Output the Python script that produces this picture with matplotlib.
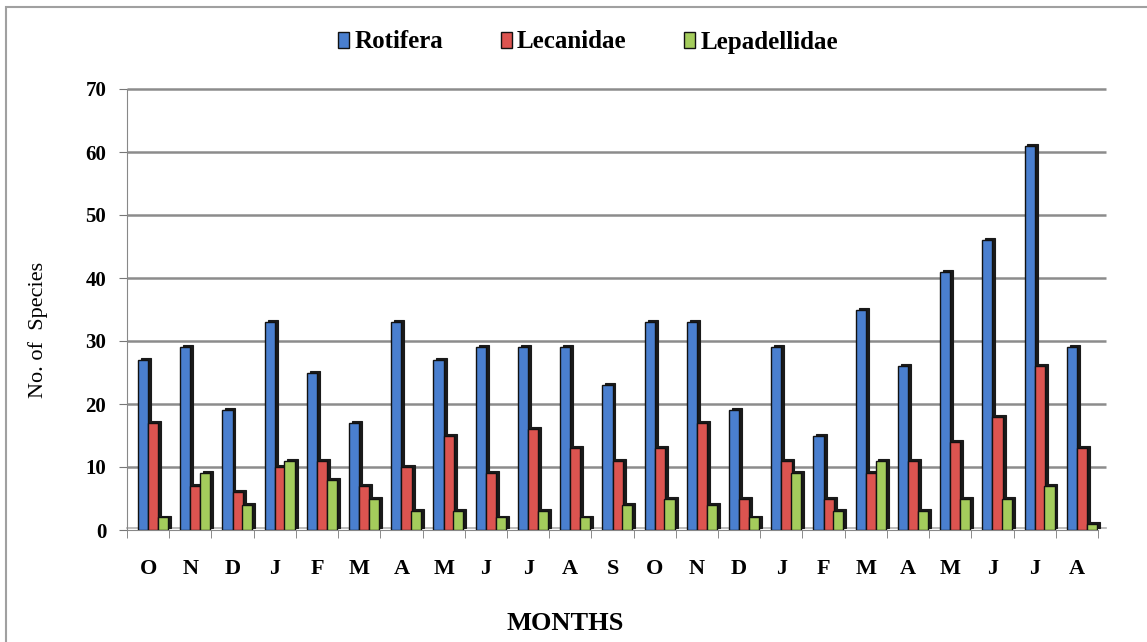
import matplotlib
matplotlib.use("Agg")
import matplotlib.pyplot as plt
import numpy as np
from matplotlib.patches import Rectangle

months = ["O", "N", "D", "J", "F", "M", "A", "M", "J", "J", "A", "S",
          "O", "N", "D", "J", "F", "M", "A", "M", "J", "J", "A"]
rotifera = [27, 29, 19, 33, 25, 17, 33, 27, 29, 29, 29, 23,
            33, 33, 19, 29, 15, 35, 26, 41, 46, 61, 29]
lecanidae = [17, 7, 6, 10, 11, 7, 10, 15, 9, 16, 13, 11,
             13, 17, 5, 11, 5, 9, 11, 14, 18, 26, 13]
lepadellidae = [2, 9, 4, 11, 8, 5, 3, 3, 2, 3, 2, 4,
                5, 4, 2, 9, 3, 11, 3, 5, 5, 7, 1]
series_names = ["Rotifera", "Lecanidae", "Lepadellidae"]
yticks = [0, 10, 20, 30, 40, 50, 60, 70]

colors = ["#4a7fcf", "#dc5450", "#a4cc5c"]
serif = ["Liberation Serif", "DejaVu Serif"]

W, H = 1147, 642
fig = plt.figure(figsize=(W / 100, H / 100), dpi=100)
# outer frame (right and bottom edges fall outside the picture)
fig.patches.append(Rectangle((6 / W, -0.05), 1.2, 1 - 7 / H + 0.05, transform=fig.transFigure,
                             fill=False, edgecolor="#a0a0a0", linewidth=1.5))
ax = fig.add_axes([127 / W, 1 - 530 / H, (1098 - 127) / W, (530 - 89) / H])

x = np.arange(len(months))
w = 0.24
offs = [-0.12, 0.12, 0.35]
for vals, c, off, name in zip([rotifera, lecanidae, lepadellidae], colors, offs, series_names):
    # dark side (depth) of the bar
    ax.bar(x + off + 0.07, vals, width=w, color="#1a1a1a", edgecolor="#1a1a1a",
           linewidth=0.8, zorder=2, bottom=0.3, clip_on=False)
    ax.bar(x + off, vals, width=w, color=c, edgecolor="#111111", linewidth=1.0,
           zorder=3, label=name)

ax.set_xlim(-0.5, len(months) - 0.5)
ax.set_ylim(0, 70)
ax.set_yticks(yticks)
ax.set_yticklabels([str(t) for t in yticks], fontfamily=serif, fontweight="bold", fontsize=15)
ax.set_xticks(x)
ax.set_xticklabels(months, fontfamily=serif, fontweight="bold", fontsize=16)
ax.set_xticks(np.arange(-0.5, len(months), 1), minor=True)
ax.tick_params(axis="x", which="major", length=0, pad=21)
ax.tick_params(axis="x", which="minor", length=6, color="#777777")
ax.tick_params(axis="y", length=6, color="#777777", pad=9)
# grid lines extended slightly to the right (depth effect)
for t in yticks[1:]:
    ax.plot([-0.5, len(months) - 0.5 + 0.2], [t, t], color="#8c8c8c", linewidth=1.8,
            zorder=1, clip_on=False, solid_capstyle="butt")
ax.plot([-0.5, len(months) - 0.5 + 0.2], [0.3, 0.3], color="#b0b0b0", linewidth=1.2,
        zorder=1, clip_on=False)
for s in ["top", "right"]:
    ax.spines[s].set_visible(False)
ax.spines["left"].set_color("#888888")
ax.spines["bottom"].set_color("#888888")

fig.text(38 / W, 1 - 330 / H, "No. of  Species", family=serif, fontsize=16,
         rotation=90, ha="center", va="center")
fig.text(565 / W, 1 - 623 / H, "MONTHS", family=serif, fontweight="bold", fontsize=19,
         ha="center", va="center")

handles, labels = ax.get_legend_handles_labels()
fig.legend(handles, labels, loc="center", bbox_to_anchor=(588 / W, 1 - 42 / H), ncol=3,
           frameon=False, prop={"family": serif, "weight": "bold", "size": 18},
           handlelength=0.45, handleheight=0.6, handletextpad=0.2, columnspacing=2.3)

fig.savefig("out.png", dpi=100)
